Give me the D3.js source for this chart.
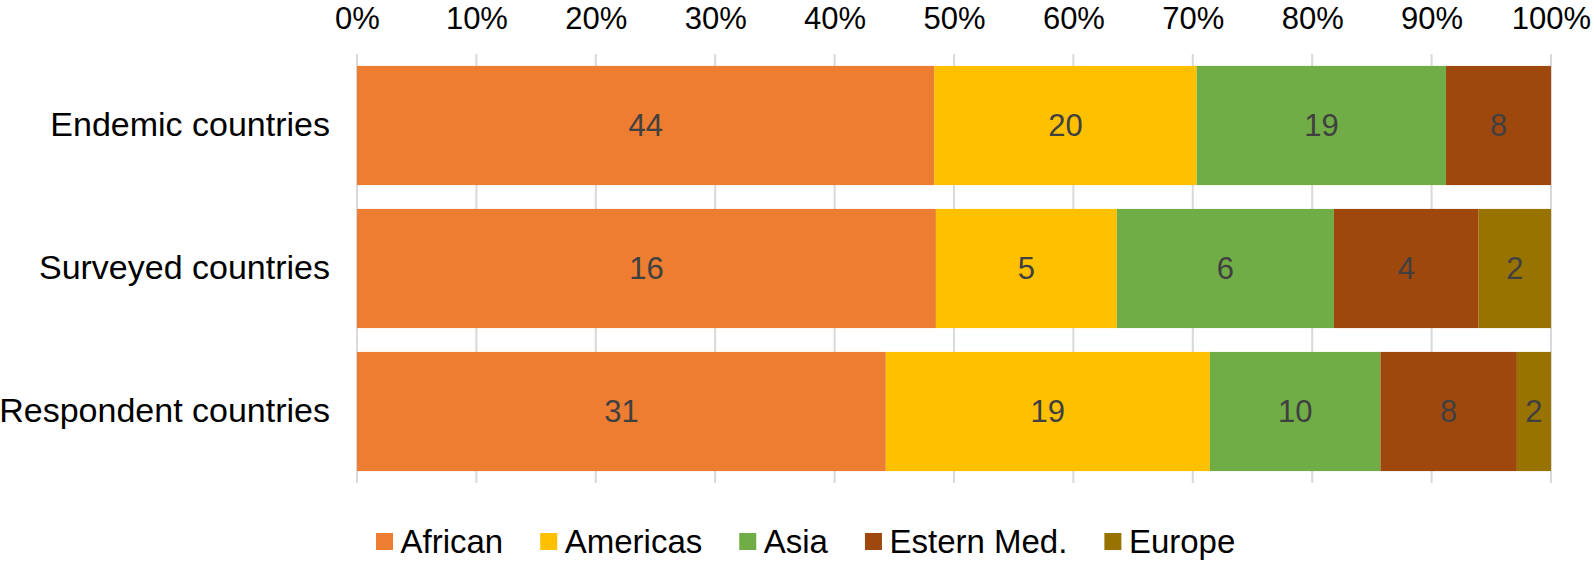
<!DOCTYPE html>
<html>
<head>
<meta charset="utf-8">
<script src="https://cdn.jsdelivr.net/npm/d3@7"></script>
<style>
  html, body { margin: 0; padding: 0; background: #fff; }
  svg { display: block; font-family: "Liberation Sans", Arial, sans-serif; }
</style>
</head>
<body>
<svg id="chart" width="1594" height="561"></svg>
<script>
const categories = ["Endemic countries", "Surveyed countries", "Respondent countries"];
const seriesNames = ["African", "Americas", "Asia", "Estern Med.", "Europe"];
const african    = [44, 16, 31];
const americas   = [20, 5, 19];
const asia       = [19, 6, 10];
const easternMed = [8, 4, 8];
const europe     = [0, 2, 2];
const colors = ["#ED7D31", "#FFC000", "#70AD47", "#9E480E", "#997300"];
const tickValues = [0, 0.1, 0.2, 0.3, 0.4, 0.5, 0.6, 0.7, 0.8, 0.9, 1.0];

const seriesValues = [african, americas, asia, easternMed, europe];
const rows = categories.map((c, i) => {
  const r = { category: c };
  seriesNames.forEach((s, j) => r[s] = seriesValues[j][i]);
  return r;
});

const svg = d3.select("#chart");
const margin = { left: 357, right: 43, top: 54, bottom: 78 };
const W = 1594, H = 561;

const x = d3.scaleLinear().domain([0, 1]).range([margin.left, W - margin.right]);
const y = d3.scaleBand().domain(categories).range([margin.top, H - margin.bottom])
  .paddingInner(0.1667).paddingOuter(0.0833);

const stack = d3.stack().keys(seriesNames).offset(d3.stackOffsetExpand);
const stacked = stack(rows);

// gridlines
svg.append("g").selectAll("line").data(tickValues).join("line")
  .attr("x1", d => x(d)).attr("x2", d => x(d))
  .attr("y1", margin.top).attr("y2", H - margin.bottom)
  .attr("stroke", "#D9D9D9").attr("stroke-width", 2);

// top axis labels
const axis = d3.axisTop(x).tickValues(tickValues).tickFormat(d3.format(".0%")).tickSize(0).tickPadding(0);
const ax = svg.append("g").attr("transform", `translate(0,28.5)`).call(axis);
ax.select(".domain").remove();
ax.selectAll("text").attr("font-size", 31).attr("fill", "#000")
  .attr("font-family", "Liberation Sans, Arial, sans-serif")
  .attr("dy", "0");

// bars
const layers = svg.append("g").selectAll("g").data(stacked).join("g")
  .attr("fill", (d, i) => colors[i]);
layers.selectAll("rect").data(d => d.map(v => ({ v, key: d.key }))).join("rect")
  .attr("x", d => x(d.v[0]))
  .attr("width", d => Math.max(0, x(d.v[1]) - x(d.v[0])))
  .attr("y", d => y(d.v.data.category))
  .attr("height", y.bandwidth());

// data labels
const labelG = svg.append("g");
stacked.forEach((layer) => {
  layer.forEach(v => {
    const val = v.data[layer.key];
    if (!val) return;
    labelG.append("text")
      .attr("x", (x(v[0]) + x(v[1])) / 2)
      .attr("y", y(v.data.category) + y.bandwidth() / 2)
      .attr("dy", "0.35em")
      .attr("text-anchor", "middle")
      .attr("font-size", 31)
      .attr("fill", "#404040")
      .text(val);
  });
});

// category labels
const yAxis = d3.axisLeft(y).tickSize(0).tickPadding(27);
const ya = svg.append("g").attr("transform", `translate(${margin.left},0)`).call(yAxis);
ya.select(".domain").remove();
ya.selectAll("text").attr("font-size", 34).attr("fill", "#000")
  .attr("font-family", "Liberation Sans, Arial, sans-serif");

// legend
const legendY = 541.5;
const legend = svg.append("g");
let lx = 376;
seriesNames.forEach((s, i) => {
  const g = legend.append("g");
  g.append("rect").attr("x", lx).attr("y", legendY - 8.5).attr("width", 17).attr("height", 17).attr("fill", colors[i]);
  const t = g.append("text").attr("x", lx + 24.5).attr("y", legendY).attr("dy", "0.35em")
    .attr("font-size", 33).attr("fill", "#000").text(s);
  const w = t.node().getComputedTextLength();
  lx = lx + 24.5 + w + 37;
});
</script>
</body>
</html>
